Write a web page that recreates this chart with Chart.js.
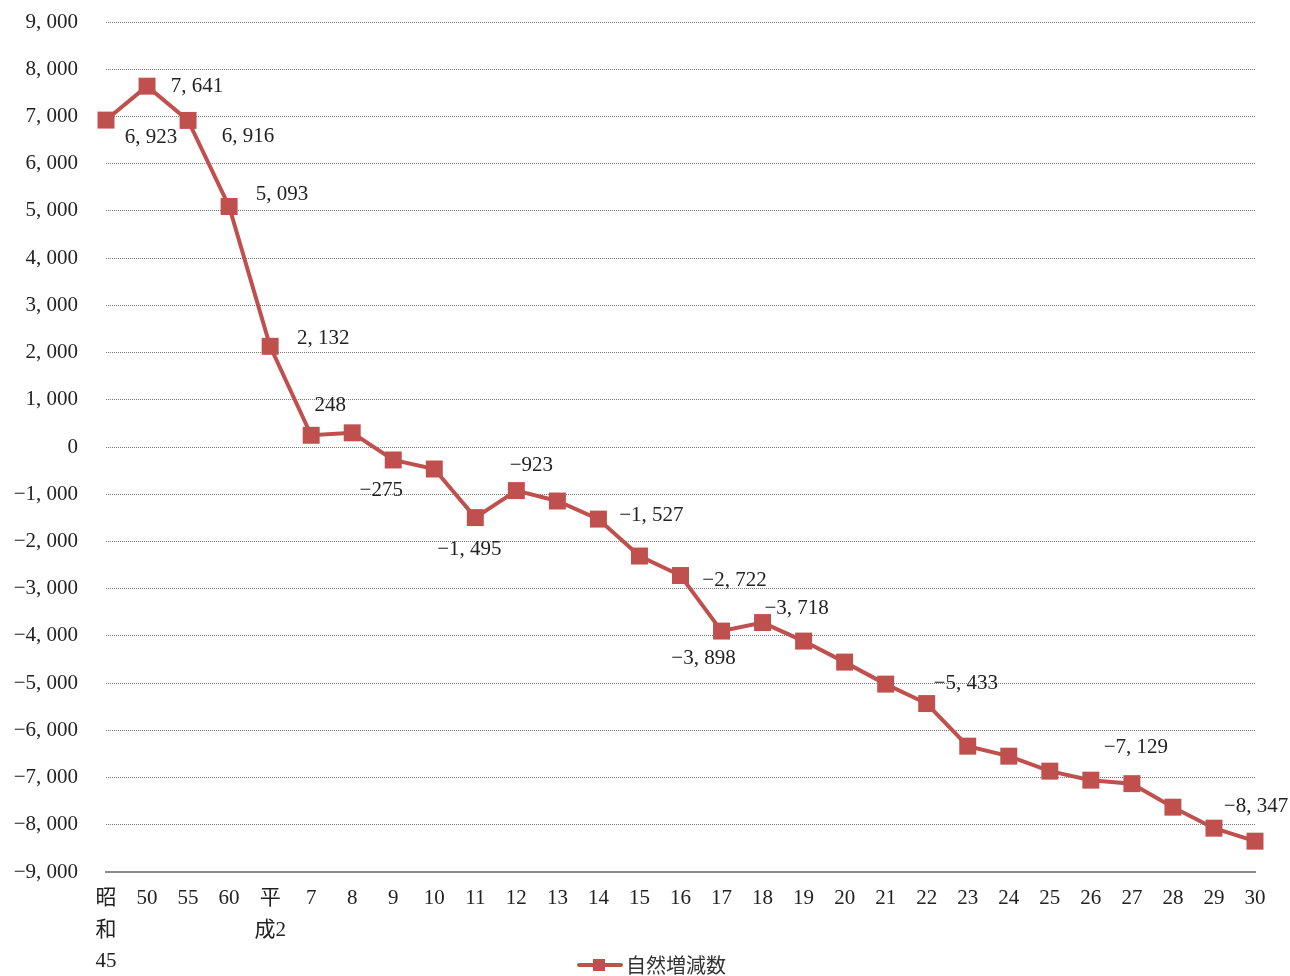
<!DOCTYPE html>
<html>
<head>
<meta charset="utf-8">
<script src="https://cdn.jsdelivr.net/npm/chart.js@4/dist/chart.umd.min.js"></script>
<style>
  body { margin: 0; background: #fff; }
</style>
</head>
<body>
<canvas id="chart" width="1290" height="976"></canvas>
<script>
const years = [
    ['昭', '和', '45'], '50', '55', '60', ['平', '成2'], '7', '8', '9', '10', '11', '12', '13', '14', '15',
    '16', '17', '18', '19', '20', '21', '22', '23', '24', '25', '26', '27', '28', '29', '30'
];
const naturalChange = [
    6923, 7641, 6916, 5093, 2132, 248, 300, -275, -466, -1495, -923, -1144, -1527, -2309,
    -2722, -3898, -3718, -4110, -4555, -5021, -5433, -6335, -6547, -6864, -7055, -7129, -7627, -8072, -8347
];
// which points get a value label (true = show)
const showLabel = [
    true, true, true, true, true, true, false, true, false, true, true, false, true, false,
    true, true, true, false, false, false, true, false, false, false, false, true, false, false, true
];
const yTicks = { min: -9000, max: 9000, step: 1000 };
const seriesName = '自然増減数';

// label offsets from the point (dx, dy), style only
const labelOffsets = {
    0: [45, 17], 1: [50, 0], 2: [60, 16], 3: [53, -12], 4: [53, -8], 5: [19, -30],
    7: [-12, 30], 9: [-6, 32], 10: [15, -25], 12: [53, -4], 14: [54, 5], 15: [-18, 27],
    16: [34, -14], 20: [39, -20], 25: [4, -36], 28: [1, -35]
};

const red = '#C0504D';
const serif = "'Liberation Serif', 'Noto Sans CJK JP', serif";

function fmt(n) {
    const s = Math.abs(n).toLocaleString('en-US').replace(/,/g, ', ');
    return (n < 0 ? '\u2212' : '') + s;
}

const valueLabels = {
    id: 'valueLabels',
    afterDatasetsDraw(chart) {
        const c = chart.ctx;
        const meta = chart.getDatasetMeta(0);
        c.save();
        c.font = '21px ' + serif;
        c.fillStyle = '#222';
        c.textAlign = 'center';
        c.textBaseline = 'middle';
        meta.data.forEach((pt, i) => {
            if (!showLabel[i]) return;
            const off = labelOffsets[i] || [0, -25];
            c.fillText(fmt(naturalChange[i]), pt.x + off[0], pt.y + off[1]);
        });
        c.restore();
    }
};

const lineLegend = {
    id: 'lineLegend',
    afterDraw(chart) {
        const c = chart.ctx;
        const ds = chart.data.datasets[0];
        const cx = chart.width / 2 + 7;
        const y = chart.height - 11;
        c.save();
        c.strokeStyle = ds.borderColor;
        c.lineWidth = 4;
        c.lineCap = 'round';
        c.beginPath();
        c.moveTo(cx - 73, y);
        c.lineTo(cx - 31, y);
        c.stroke();
        c.fillStyle = ds.pointBackgroundColor;
        c.fillRect(cx - 59, y - 6, 12, 12);
        c.font = "20px 'Noto Sans CJK JP', sans-serif";
        c.fillStyle = '#333';
        c.textAlign = 'left';
        c.textBaseline = 'middle';
        c.fillText(ds.label, cx - 26, y);
        c.restore();
    }
};

new Chart(document.getElementById('chart'), {
    type: 'line',
    data: {
        labels: years,
        datasets: [{
            label: seriesName,
            data: naturalChange,
            borderColor: red,
            backgroundColor: red,
            pointBackgroundColor: red,
            pointBorderColor: red,
            borderWidth: 4,
            pointStyle: 'rect',
            pointRadius: 12,
            pointBorderWidth: 0,
            tension: 0,
            clip: false
        }]
    },
    options: {
        responsive: false,
        animation: false,
        layout: { padding: { left: 6, right: 35, top: 22, bottom: 0 } },
        plugins: {
            legend: { display: false },
            tooltip: { enabled: false }
        },
        scales: {
            x: {
                offset: false,
                grid: { display: false, drawTicks: false },
                border: { color: '#8c8c8c', width: 2 },
                ticks: {
                    autoSkip: false,
                    maxRotation: 0,
                    padding: 11,
                    color: '#222',
                    font: { family: serif, size: 21, lineHeight: 1.5 }
                },
                afterFit: scale => { scale.height = 104; scale.paddingTop = 0; }
            },
            y: {
                min: yTicks.min,
                max: yTicks.max,
                grid: { color: '#7a7a7a', lineWidth: 1, drawTicks: false },
                border: { display: false, dash: [1, 1] },
                ticks: {
                    stepSize: yTicks.step,
                    padding: 28,
                    color: '#222',
                    font: { family: serif, size: 21 },
                    callback: v => fmt(v)
                },
                afterFit: scale => { scale.width = 100; scale.paddingTop = 0; }
            }
        }
    },
    plugins: [valueLabels, lineLegend]
});
</script>
</body>
</html>
